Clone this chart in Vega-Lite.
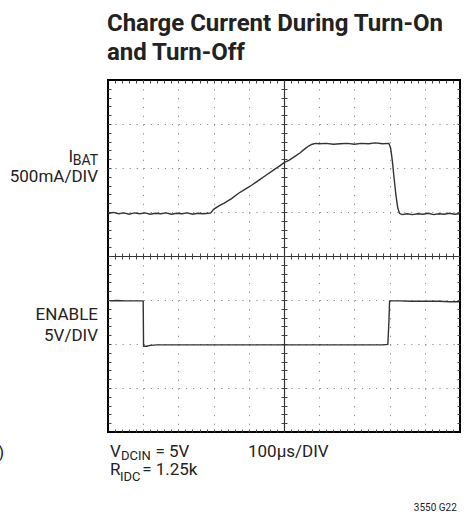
{
  "$schema": "https://vega.github.io/schema/vega-lite/v6.json",
  "width": 352,
  "height": 352,
  "autosize": {"type": "none"},
  "padding": {"left": 108, "top": 80, "right": 10, "bottom": 87},
  "background": "white",
  "config": {
    "view": {"stroke": "#000", "strokeWidth": 2},
    "axis": {"labels": false, "domain": false, "ticks": false, "grid": false, "tickColor": "#444", "tickWidth": 1, "tickSize": 3, "domainColor": "#333", "domainWidth": 1.2, "gridColor": "#888", "gridWidth": 1},
    "text": {"font": "Roboto", "color": "#222"}
  },
  "resolve": {"axis": {"x": "independent", "y": "independent"}},
  "layer": [
    {
      "data": {"values": [{}]},
      "mark": {"type": "point", "opacity": 0},
      "encoding": {
        "x": {"datum": 0, "type": "quantitative", "scale": {"domain": [0, 10], "nice": false, "zero": false},
          "axis": {"orient": "bottom", "title": null, "values": [1, 2, 3, 4, 6, 7, 8, 9], "grid": true, "gridDash": [1.2, 7.6]}},
        "y": {"datum": 0, "type": "quantitative", "scale": {"domain": [0, 8], "nice": false, "zero": false},
          "axis": {"orient": "left", "title": null, "values": [1, 2, 3, 5, 6, 7], "grid": true, "gridDash": [1.2, 5.84]}}
      }
    },
    {
      "data": {"values": [{}]},
      "mark": {"type": "point", "opacity": 0},
      "encoding": {
        "x": {"datum": 0, "type": "quantitative", "scale": {"domain": [0, 10], "nice": false, "zero": false},
          "axis": {"orient": "top", "offset": -352, "title": null, "ticks": true, "values": [0.2,0.4,0.6,0.8,1,1.2,1.4,1.6,1.8,2,2.2,2.4,2.6,2.8,3,3.2,3.4,3.6,3.8,4,4.2,4.4,4.6,4.8,5,5.2,5.4,5.6,5.8,6,6.2,6.4,6.6,6.8,7,7.2,7.4,7.6,7.8,8,8.2,8.4,8.6,8.8,9,9.2,9.4,9.6,9.8]}},
        "y": {"datum": 0, "type": "quantitative", "scale": {"domain": [0, 8], "nice": false, "zero": false},
          "axis": {"orient": "right", "offset": -352, "title": null, "ticks": true, "values": [0.2,0.4,0.6,0.8,1,1.2,1.4,1.6,1.8,2,2.2,2.4,2.6,2.8,3,3.2,3.4,3.6,3.8,4,4.2,4.4,4.6,4.8,5,5.2,5.4,5.6,5.8,6,6.2,6.4,6.6,6.8,7,7.2,7.4,7.6,7.8]}}
      }
    },
    {
      "data": {"values": [{}]},
      "mark": {"type": "point", "opacity": 0},
      "encoding": {
        "x": {"datum": 0, "type": "quantitative", "scale": {"domain": [0, 10], "nice": false, "zero": false},
          "axis": {"orient": "bottom", "offset": -352, "title": null, "ticks": true, "values": [0.2,0.4,0.6,0.8,1,1.2,1.4,1.6,1.8,2,2.2,2.4,2.6,2.8,3,3.2,3.4,3.6,3.8,4,4.2,4.4,4.6,4.8,5,5.2,5.4,5.6,5.8,6,6.2,6.4,6.6,6.8,7,7.2,7.4,7.6,7.8,8,8.2,8.4,8.6,8.8,9,9.2,9.4,9.6,9.8]}},
        "y": {"datum": 0, "type": "quantitative", "scale": {"domain": [0, 8], "nice": false, "zero": false},
          "axis": {"orient": "left", "offset": -352, "title": null, "ticks": true, "values": [0.2,0.4,0.6,0.8,1,1.2,1.4,1.6,1.8,2,2.2,2.4,2.6,2.8,3,3.2,3.4,3.6,3.8,4,4.2,4.4,4.6,4.8,5,5.2,5.4,5.6,5.8,6,6.2,6.4,6.6,6.8,7,7.2,7.4,7.6,7.8]}}
      }
    },
    {
      "data": {"values": [{}]},
      "mark": {"type": "point", "opacity": 0},
      "encoding": {
        "x": {"datum": 0, "type": "quantitative", "scale": {"domain": [0, 10], "nice": false, "zero": false},
          "axis": {"orient": "bottom", "offset": -176, "title": null, "domain": true, "ticks": true, "values": [0.2,0.4,0.6,0.8,1,1.2,1.4,1.6,1.8,2,2.2,2.4,2.6,2.8,3,3.2,3.4,3.6,3.8,4,4.2,4.4,4.6,4.8,5,5.2,5.4,5.6,5.8,6,6.2,6.4,6.6,6.8,7,7.2,7.4,7.6,7.8,8,8.2,8.4,8.6,8.8,9,9.2,9.4,9.6,9.8]}},
        "y": {"datum": 0, "type": "quantitative", "scale": {"domain": [0, 8], "nice": false, "zero": false},
          "axis": {"orient": "left", "offset": -176, "title": null, "domain": true, "ticks": true, "values": [0.2,0.4,0.6,0.8,1,1.2,1.4,1.6,1.8,2,2.2,2.4,2.6,2.8,3,3.2,3.4,3.6,3.8,4,4.2,4.4,4.6,4.8,5,5.2,5.4,5.6,5.8,6,6.2,6.4,6.6,6.8,7,7.2,7.4,7.6,7.8]}}
      }
    },
    {
      "data": {"values": [{}]},
      "mark": {"type": "point", "opacity": 0},
      "encoding": {
        "x": {"datum": 0, "type": "quantitative", "scale": {"domain": [0, 10], "nice": false, "zero": false},
          "axis": {"orient": "top", "offset": -176, "title": null, "ticks": true, "values": [0.2,0.4,0.6,0.8,1,1.2,1.4,1.6,1.8,2,2.2,2.4,2.6,2.8,3,3.2,3.4,3.6,3.8,4,4.2,4.4,4.6,4.8,5,5.2,5.4,5.6,5.8,6,6.2,6.4,6.6,6.8,7,7.2,7.4,7.6,7.8,8,8.2,8.4,8.6,8.8,9,9.2,9.4,9.6,9.8]}},
        "y": {"datum": 0, "type": "quantitative", "scale": {"domain": [0, 8], "nice": false, "zero": false},
          "axis": {"orient": "right", "offset": -176, "title": null, "ticks": true, "values": [0.2,0.4,0.6,0.8,1,1.2,1.4,1.6,1.8,2,2.2,2.4,2.6,2.8,3,3.2,3.4,3.6,3.8,4,4.2,4.4,4.6,4.8,5,5.2,5.4,5.6,5.8,6,6.2,6.4,6.6,6.8,7,7.2,7.4,7.6,7.8]}}
      }
    },
    {
      "data": {"values": [
        {"t":0.02,"v":4.97,"trace":"IBAT"},{"t":0.15,"v":4.99,"trace":"IBAT"},{"t":0.3,"v":4.96,"trace":"IBAT"},{"t":0.45,"v":4.98,"trace":"IBAT"},{"t":0.6,"v":4.95,"trace":"IBAT"},{"t":0.75,"v":4.98,"trace":"IBAT"},{"t":0.9,"v":4.96,"trace":"IBAT"},{"t":1.05,"v":4.98,"trace":"IBAT"},{"t":1.2,"v":4.95,"trace":"IBAT"},{"t":1.35,"v":4.97,"trace":"IBAT"},{"t":1.5,"v":4.96,"trace":"IBAT"},{"t":1.65,"v":4.98,"trace":"IBAT"},{"t":1.8,"v":4.95,"trace":"IBAT"},{"t":1.95,"v":4.97,"trace":"IBAT"},{"t":2.1,"v":4.96,"trace":"IBAT"},{"t":2.25,"v":4.98,"trace":"IBAT"},{"t":2.4,"v":4.95,"trace":"IBAT"},{"t":2.55,"v":4.97,"trace":"IBAT"},{"t":2.7,"v":4.96,"trace":"IBAT"},{"t":2.85,"v":4.97,"trace":"IBAT"},{"t":2.92,"v":4.98,"trace":"IBAT"},
        {"t":3.0,"v":5.06,"trace":"IBAT"},{"t":3.15,"v":5.14,"trace":"IBAT"},{"t":3.3,"v":5.2,"trace":"IBAT"},{"t":3.5,"v":5.3,"trace":"IBAT"},{"t":3.7,"v":5.42,"trace":"IBAT"},{"t":3.9,"v":5.52,"trace":"IBAT"},{"t":4.1,"v":5.62,"trace":"IBAT"},{"t":4.3,"v":5.73,"trace":"IBAT"},{"t":4.5,"v":5.84,"trace":"IBAT"},{"t":4.7,"v":5.95,"trace":"IBAT"},{"t":4.9,"v":6.06,"trace":"IBAT"},{"t":5.0,"v":6.12,"trace":"IBAT"},{"t":5.15,"v":6.18,"trace":"IBAT"},{"t":5.3,"v":6.26,"trace":"IBAT"},{"t":5.45,"v":6.34,"trace":"IBAT"},{"t":5.6,"v":6.44,"trace":"IBAT"},{"t":5.7,"v":6.5,"trace":"IBAT"},{"t":5.8,"v":6.54,"trace":"IBAT"},{"t":5.9,"v":6.56,"trace":"IBAT"},
        {"t":6.0,"v":6.55,"trace":"IBAT"},{"t":6.2,"v":6.56,"trace":"IBAT"},{"t":6.4,"v":6.54,"trace":"IBAT"},{"t":6.6,"v":6.55,"trace":"IBAT"},{"t":6.8,"v":6.56,"trace":"IBAT"},{"t":7.0,"v":6.54,"trace":"IBAT"},{"t":7.2,"v":6.56,"trace":"IBAT"},{"t":7.4,"v":6.55,"trace":"IBAT"},{"t":7.6,"v":6.57,"trace":"IBAT"},{"t":7.8,"v":6.55,"trace":"IBAT"},{"t":7.98,"v":6.56,"trace":"IBAT"},
        {"t":8.03,"v":6.45,"trace":"IBAT"},{"t":8.08,"v":6.15,"trace":"IBAT"},{"t":8.13,"v":5.75,"trace":"IBAT"},{"t":8.18,"v":5.38,"trace":"IBAT"},{"t":8.23,"v":5.1,"trace":"IBAT"},{"t":8.28,"v":4.97,"trace":"IBAT"},{"t":8.35,"v":4.94,"trace":"IBAT"},{"t":8.5,"v":4.96,"trace":"IBAT"},{"t":8.65,"v":4.94,"trace":"IBAT"},{"t":8.8,"v":4.96,"trace":"IBAT"},{"t":8.95,"v":4.95,"trace":"IBAT"},{"t":9.1,"v":4.97,"trace":"IBAT"},{"t":9.25,"v":4.94,"trace":"IBAT"},{"t":9.4,"v":4.96,"trace":"IBAT"},{"t":9.55,"v":4.95,"trace":"IBAT"},{"t":9.7,"v":4.97,"trace":"IBAT"},{"t":9.85,"v":4.95,"trace":"IBAT"},{"t":9.98,"v":4.96,"trace":"IBAT"},
        {"t":0.05,"v":2.98,"trace":"ENABLE"},{"t":0.25,"v":2.99,"trace":"ENABLE"},{"t":0.5,"v":2.98,"trace":"ENABLE"},{"t":0.75,"v":2.98,"trace":"ENABLE"},{"t":0.97,"v":2.98,"trace":"ENABLE"},{"t":1.0,"v":2.97,"trace":"ENABLE"},{"t":1.01,"v":1.95,"trace":"ENABLE"},{"t":1.1,"v":1.95,"trace":"ENABLE"},{"t":1.2,"v":1.97,"trace":"ENABLE"},{"t":1.4,"v":1.98,"trace":"ENABLE"},{"t":1.6,"v":1.98,"trace":"ENABLE"},{"t":2.0,"v":1.98,"trace":"ENABLE"},{"t":2.5,"v":1.98,"trace":"ENABLE"},{"t":3.0,"v":1.98,"trace":"ENABLE"},{"t":4.0,"v":1.98,"trace":"ENABLE"},{"t":5.0,"v":1.98,"trace":"ENABLE"},{"t":6.0,"v":1.98,"trace":"ENABLE"},{"t":7.0,"v":1.98,"trace":"ENABLE"},{"t":7.8,"v":1.98,"trace":"ENABLE"},{"t":7.95,"v":1.99,"trace":"ENABLE"},{"t":7.98,"v":2.5,"trace":"ENABLE"},{"t":8.0,"v":2.98,"trace":"ENABLE"},{"t":8.3,"v":2.98,"trace":"ENABLE"},{"t":8.6,"v":2.97,"trace":"ENABLE"},{"t":9.0,"v":2.97,"trace":"ENABLE"},{"t":9.4,"v":2.97,"trace":"ENABLE"},{"t":9.7,"v":2.96,"trace":"ENABLE"},{"t":9.98,"v":2.96,"trace":"ENABLE"}
      ]},
      "mark": {"type": "line", "color": "#333", "strokeWidth": 1.4, "interpolate": "linear"},
      "encoding": {
        "x": {"field": "t", "type": "quantitative", "scale": {"domain": [0, 10], "nice": false, "zero": false}, "axis": null},
        "y": {"field": "v", "type": "quantitative", "scale": {"domain": [0, 8], "nice": false, "zero": false}, "axis": null},
        "detail": {"field": "trace"}
      }
    },
    {
      "data": {"values": [{}]},
      "mark": {"type": "text", "text": "Charge Current During Turn-On", "align": "left", "baseline": "alphabetic", "fontWeight": "bold", "fontSize": 24},
      "encoding": {"x": {"datum": -0.03, "type": "quantitative", "scale": {"domain": [0, 10], "nice": false, "zero": false}, "axis": null}, "y": {"datum": 9.114, "type": "quantitative", "scale": {"domain": [0, 8], "nice": false, "zero": false}, "axis": null}}
    },
    {
      "data": {"values": [{}]},
      "mark": {"type": "text", "text": "and Turn-Off", "align": "left", "baseline": "alphabetic", "fontWeight": "bold", "fontSize": 24},
      "encoding": {"x": {"datum": -0.03, "type": "quantitative", "scale": {"domain": [0, 10], "nice": false, "zero": false}, "axis": null}, "y": {"datum": 8.455, "type": "quantitative", "scale": {"domain": [0, 8], "nice": false, "zero": false}, "axis": null}}
    },
    {
      "data": {"values": [{}]},
      "mark": {"type": "text", "text": "I", "align": "right", "baseline": "alphabetic", "fontSize": 17},
      "encoding": {"x": {"datum": -0.99, "type": "quantitative", "scale": {"domain": [0, 10], "nice": false, "zero": false}, "axis": null}, "y": {"datum": 6.143, "type": "quantitative", "scale": {"domain": [0, 8], "nice": false, "zero": false}, "axis": null}}
    },
    {
      "data": {"values": [{}]},
      "mark": {"type": "text", "text": "BAT", "align": "right", "baseline": "alphabetic", "fontSize": 14},
      "encoding": {"x": {"datum": -0.284, "type": "quantitative", "scale": {"domain": [0, 10], "nice": false, "zero": false}, "axis": null}, "y": {"datum": 6.068, "type": "quantitative", "scale": {"domain": [0, 8], "nice": false, "zero": false}, "axis": null}}
    },
    {
      "data": {"values": [{}]},
      "mark": {"type": "text", "text": "500mA/DIV", "align": "right", "baseline": "alphabetic", "fontSize": 17},
      "encoding": {"x": {"datum": -0.284, "type": "quantitative", "scale": {"domain": [0, 10], "nice": false, "zero": false}, "axis": null}, "y": {"datum": 5.689, "type": "quantitative", "scale": {"domain": [0, 8], "nice": false, "zero": false}, "axis": null}}
    },
    {
      "data": {"values": [{}]},
      "mark": {"type": "text", "text": "ENABLE", "align": "right", "baseline": "alphabetic", "fontSize": 17},
      "encoding": {"x": {"datum": -0.284, "type": "quantitative", "scale": {"domain": [0, 10], "nice": false, "zero": false}, "axis": null}, "y": {"datum": 2.545, "type": "quantitative", "scale": {"domain": [0, 8], "nice": false, "zero": false}, "axis": null}}
    },
    {
      "data": {"values": [{}]},
      "mark": {"type": "text", "text": "5V/DIV", "align": "right", "baseline": "alphabetic", "fontSize": 17},
      "encoding": {"x": {"datum": -0.284, "type": "quantitative", "scale": {"domain": [0, 10], "nice": false, "zero": false}, "axis": null}, "y": {"datum": 2.075, "type": "quantitative", "scale": {"domain": [0, 8], "nice": false, "zero": false}, "axis": null}}
    },
    {
      "data": {"values": [{}]},
      "mark": {"type": "text", "text": "V", "align": "left", "baseline": "alphabetic", "fontSize": 17},
      "encoding": {"x": {"datum": 0.057, "type": "quantitative", "scale": {"domain": [0, 10], "nice": false, "zero": false}, "axis": null}, "y": {"datum": -0.568, "type": "quantitative", "scale": {"domain": [0, 8], "nice": false, "zero": false}, "axis": null}}
    },
    {
      "data": {"values": [{}]},
      "mark": {"type": "text", "text": "DCIN", "align": "left", "baseline": "alphabetic", "fontSize": 13},
      "encoding": {"x": {"datum": 0.37, "type": "quantitative", "scale": {"domain": [0, 10], "nice": false, "zero": false}, "axis": null}, "y": {"datum": -0.636, "type": "quantitative", "scale": {"domain": [0, 8], "nice": false, "zero": false}, "axis": null}}
    },
    {
      "data": {"values": [{}]},
      "mark": {"type": "text", "text": "= 5V", "align": "left", "baseline": "alphabetic", "fontSize": 17},
      "encoding": {"x": {"datum": 1.35, "type": "quantitative", "scale": {"domain": [0, 10], "nice": false, "zero": false}, "axis": null}, "y": {"datum": -0.568, "type": "quantitative", "scale": {"domain": [0, 8], "nice": false, "zero": false}, "axis": null}}
    },
    {
      "data": {"values": [{}]},
      "mark": {"type": "text", "text": "R", "align": "left", "baseline": "alphabetic", "fontSize": 17},
      "encoding": {"x": {"datum": 0.057, "type": "quantitative", "scale": {"domain": [0, 10], "nice": false, "zero": false}, "axis": null}, "y": {"datum": -0.977, "type": "quantitative", "scale": {"domain": [0, 8], "nice": false, "zero": false}, "axis": null}}
    },
    {
      "data": {"values": [{}]},
      "mark": {"type": "text", "text": "IDC", "align": "left", "baseline": "alphabetic", "fontSize": 13},
      "encoding": {"x": {"datum": 0.34, "type": "quantitative", "scale": {"domain": [0, 10], "nice": false, "zero": false}, "axis": null}, "y": {"datum": -1.114, "type": "quantitative", "scale": {"domain": [0, 8], "nice": false, "zero": false}, "axis": null}}
    },
    {
      "data": {"values": [{}]},
      "mark": {"type": "text", "text": "= 1.25k", "align": "left", "baseline": "alphabetic", "fontSize": 17},
      "encoding": {"x": {"datum": 0.97, "type": "quantitative", "scale": {"domain": [0, 10], "nice": false, "zero": false}, "axis": null}, "y": {"datum": -0.977, "type": "quantitative", "scale": {"domain": [0, 8], "nice": false, "zero": false}, "axis": null}}
    },
    {
      "data": {"values": [{}]},
      "mark": {"type": "text", "text": "100µs/DIV", "align": "left", "baseline": "alphabetic", "fontSize": 17},
      "encoding": {"x": {"datum": 3.977, "type": "quantitative", "scale": {"domain": [0, 10], "nice": false, "zero": false}, "axis": null}, "y": {"datum": -0.568, "type": "quantitative", "scale": {"domain": [0, 8], "nice": false, "zero": false}, "axis": null}}
    },
    {
      "data": {"values": [{}]},
      "mark": {"type": "text", "text": "3550 G22", "align": "right", "baseline": "alphabetic", "fontSize": 10},
      "encoding": {"x": {"datum": 9.91, "type": "quantitative", "scale": {"domain": [0, 10], "nice": false, "zero": false}, "axis": null}, "y": {"datum": -1.795, "type": "quantitative", "scale": {"domain": [0, 8], "nice": false, "zero": false}, "axis": null}}
    },
    {
      "data": {"values": [{}]},
      "mark": {"type": "text", "text": ")", "align": "right", "baseline": "alphabetic", "fontSize": 17},
      "encoding": {"x": {"datum": -2.95, "type": "quantitative", "scale": {"domain": [0, 10], "nice": false, "zero": false}, "axis": null}, "y": {"datum": -0.591, "type": "quantitative", "scale": {"domain": [0, 8], "nice": false, "zero": false}, "axis": null}}
    }
  ]
}
